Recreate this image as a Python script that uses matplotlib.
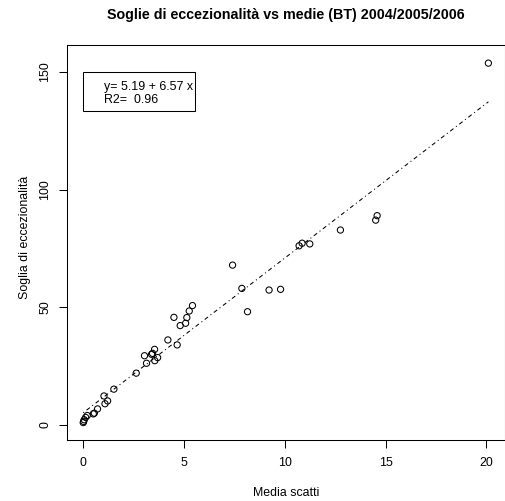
import numpy as np
import matplotlib
matplotlib.use("Agg")
import matplotlib.pyplot as plt
from matplotlib.patches import Rectangle

# ---------------------------------------------------
# Data
# ---------------------------------------------------
media_scatti = [0.0, 0.02, 0.05, 0.12, 0.2, 0.5, 0.55, 0.71, 1.03, 1.08,
                1.21, 1.52, 2.63, 3.04, 3.14, 3.39, 3.44, 3.54, 3.55, 3.69,
                4.2, 4.5, 4.66, 4.81, 5.08, 5.14, 5.26, 5.42, 7.41, 7.87,
                8.15, 9.22, 9.79, 10.71, 10.86, 11.24, 12.76, 14.51, 14.58, 20.1]
soglia = [1.0, 1.5, 2.2, 3.2, 4.0, 4.7, 5.0, 6.8, 12.3, 9.0,
          10.2, 15.2, 22.0, 29.4, 26.2, 30.0, 30.4, 32.1, 27.3, 28.6,
          36.1, 45.7, 34.0, 42.2, 43.2, 45.6, 48.4, 50.7, 67.9, 58.0,
          48.1, 57.3, 57.6, 76.1, 77.2, 76.9, 82.8, 87.0, 88.9, 153.7]

intercept = 5.19
slope = 6.57
r2 = 0.96

x_ticks = [0, 5, 10, 15, 20]
y_ticks = [0, 50, 100, 150]

# ---------------------------------------------------
# Figure setup (R-like base graphics look)
# ---------------------------------------------------
plt.rcParams['font.family'] = ['Liberation Sans', 'DejaVu Sans']
W, H = 505, 501
fs = 8.9
fig = plt.figure(figsize=(W / 100, H / 100), dpi=100)

left, right, top, bottom = 67.3, 504.5, 45, 440
ax = fig.add_axes([left / W, 1 - bottom / H, (right - left) / W, (bottom - top) / H])

ax.scatter(media_scatti, soglia, s=20, facecolors='none', edgecolors='black',
           linewidths=0.75, zorder=3)

xl = np.array([min(media_scatti), max(media_scatti)])
ax.plot(xl, intercept + slope * xl, color='black', linewidth=0.75,
        dashes=(1, 3, 4, 3))

ax.set_xlim(-0.79, 20.9)
ax.set_ylim(-6.4, 161.4)
ax.set_xticks(x_ticks)
ax.set_yticks(y_ticks)
ax.tick_params(direction='out', length=5.5, width=0.75, labelsize=fs, pad=6.5)
ax.tick_params(axis='y', labelrotation=90, pad=6)
for lab in ax.get_yticklabels():
    lab.set_va('center')
for sp in ax.spines.values():
    sp.set_linewidth(0.75)

# legend box with the fit
ax.add_patch(Rectangle((0.0366, 0.833), 0.2554, 0.0986, transform=ax.transAxes,
                       fill=False, edgecolor='black', linewidth=0.75))
ax.text(0.084, 0.8937, f"y= {intercept} + {slope} x", transform=ax.transAxes,
        fontsize=fs, va='center', ha='left')
ax.text(0.084, 0.860, f"R2=  {r2}", transform=ax.transAxes,
        fontsize=fs, va='center', ha='left')

# titles and axis labels
fig.text(286 / W, 1 - 15 / H, "Soglie di eccezionalità vs medie (BT) 2004/2005/2006",
         fontsize=10.25, fontweight='bold', ha='center', va='center')
fig.text(286 / W, 1 - 493 / H, "Media scatti", fontsize=fs, ha='center', va='center')
fig.text(25 / W, 1 - 237 / H, "Soglia di eccezionalità", fontsize=fs,
         ha='center', va='center', rotation=90)

fig.savefig("out.png", dpi=100)
